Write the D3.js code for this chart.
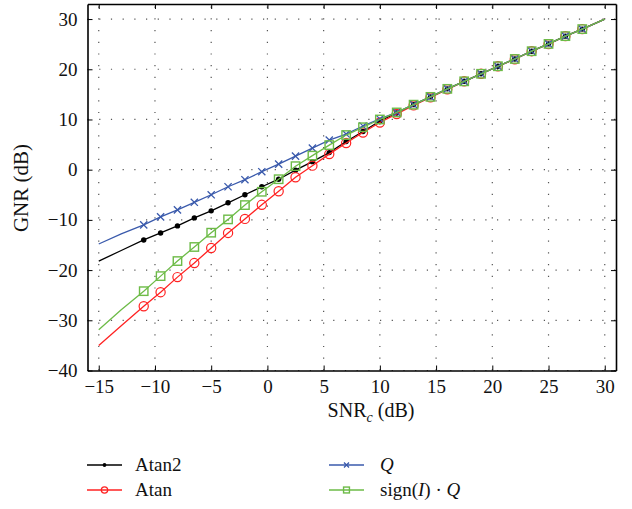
<!DOCTYPE html>
<html><head><meta charset="utf-8">
<script src="https://cdn.jsdelivr.net/npm/d3@7"></script>
<style>
body{margin:0;background:#fff;}
svg{display:block;font-family:"Liberation Serif","DejaVu Serif",serif;}
svg text{font-family:"Liberation Serif","DejaVu Serif",serif;}
</style></head>
<body><svg id="c" width="632" height="509"></svg>
<script>
const snr = [-15, -13, -11, -9.5, -8, -6.5, -5, -3.5, -2, -0.5, 1, 2.5, 4, 5.5, 7, 8.5, 10, 11.5, 13, 14.5, 16, 17.5, 19, 20.5, 22, 23.5, 25, 26.5, 28, 30];
const atan2 = [-18.2, -16.1, -14.0, -12.6, -11.2, -9.6, -8.2, -6.6, -5.0, -3.4, -1.9, -0.1, 1.6, 3.4, 5.6, 7.6, 9.7, 11.3, 12.95, 14.5, 16.1, 17.6, 19.1, 20.6, 22.05, 23.6, 25.05, 26.6, 28.0, 30.0];
const atan = [-35.0, -31.1, -27.2, -24.4, -21.4, -18.6, -15.6, -12.6, -9.8, -7.0, -4.3, -1.5, 0.8, 3.1, 5.3, 7.4, 9.4, 11.1, 12.8, 14.4, 16.0, 17.6, 19.1, 20.6, 22.0, 23.6, 25.0, 26.6, 28.0, 30.0];
const qOnly = [-14.8, -12.8, -11.0, -9.4, -8.0, -6.5, -5.0, -3.4, -2.0, -0.4, 1.1, 2.7, 4.3, 5.9, 7.1, 8.7, 10.1, 11.4, 12.95, 14.5, 16.1, 17.6, 19.1, 20.6, 22.05, 23.6, 25.05, 26.6, 28.0, 30.0];
const signQ = [-31.9, -27.9, -24.2, -21.2, -18.2, -15.4, -12.55, -9.9, -7.05, -4.4, -1.9, 0.7, 2.8, 4.9, 6.9, 8.45, 10.0, 11.4, 12.95, 14.5, 16.1, 17.6, 19.1, 20.6, 22.05, 23.6, 25.05, 26.6, 28.0, 30.0];
const xTicks = [-15, -10, -5, 0, 5, 10, 15, 20, 25, 30];
const yTicks = [-40, -30, -20, -10, 0, 10, 20, 30];
const markerRange = [-11, 28];

const series = [
  {name:"Atan2", vals:atan2, color:"#000000", marker:"dot"},
  {name:"Atan", vals:atan, color:"#ff2222", marker:"circle"},
  {name:"Q", vals:qOnly, color:"#3a5aac", marker:"x"},
  {name:"signQ", vals:signQ, color:"#6dbb47", marker:"square"}
];

const FONT = "Liberation Serif, DejaVu Serif, serif";
const svg = d3.select("#c");
const L=87.5, R=616, T=4, B=370.5;
const x = d3.scaleLinear().domain([-16,31]).range([L,R]);
const y = d3.scaleLinear().domain([-40,33]).range([B,T]);

// grid
const g = svg.append("g");
g.selectAll(".gx").data(xTicks).join("line")
  .attr("x1",d=>x(d)).attr("x2",d=>x(d)).attr("y1",B).attr("y2",T)
  .attr("stroke","#555").attr("stroke-width",1.2).attr("stroke-dasharray","1.2,10.5");
g.selectAll(".gy").data(yTicks).join("line")
  .attr("x1",L).attr("x2",R).attr("y1",d=>y(d)).attr("y2",d=>y(d))
  .attr("stroke","#555").attr("stroke-width",1.2).attr("stroke-dasharray","1.2,10.5");

// axes
function styleAxis(sel){
  sel.attr("font-family",FONT);
  sel.selectAll("path").attr("stroke","#000").attr("stroke-width",1.6);
  sel.selectAll("line").attr("stroke","#000").attr("stroke-width",1);
  sel.selectAll("text").attr("fill","#111").attr("font-size",19).attr("font-family",FONT);
}
svg.append("g").attr("transform",`translate(0,${B})`)
  .call(d3.axisBottom(x).tickValues(xTicks).tickSize(-5).tickSizeOuter(0).tickPadding(9)).call(styleAxis);
svg.append("g").attr("transform",`translate(${L},0)`)
  .call(d3.axisLeft(y).tickValues(yTicks).tickSize(-5).tickSizeOuter(0).tickPadding(10)).call(styleAxis);
svg.append("g").attr("transform",`translate(0,${T})`)
  .call(d3.axisTop(x).tickValues(xTicks).tickSize(-5).tickSizeOuter(0).tickFormat("")).call(styleAxis);
svg.append("g").attr("transform",`translate(${R},0)`)
  .call(d3.axisRight(y).tickValues(yTicks).tickSize(-5).tickSizeOuter(0).tickFormat("")).call(styleAxis);

// markers
function drawMarker(sel, type, color, s){
  if(type==="dot"){
    sel.append("circle").attr("r",2.7*s).attr("fill",color);
  } else if(type==="circle"){
    sel.append("circle").attr("r",4.6*s).attr("fill","none").attr("stroke",color).attr("stroke-width",1.2);
  } else if(type==="x"){
    const a=3.6*s;
    sel.append("path").attr("d",`M${-a},${-a}L${a},${a}M${-a},${a}L${a},${-a}`)
      .attr("stroke",color).attr("stroke-width",1.3).attr("fill","none");
  } else if(type==="square"){
    const a=4.2*s;
    sel.append("rect").attr("x",-a).attr("y",-a).attr("width",2*a).attr("height",2*a)
      .attr("fill","none").attr("stroke",color).attr("stroke-width",1.4);
  }
}

const line = d3.line().x(d=>x(d[0])).y(d=>y(d[1]));
series.forEach(s=>{
  const pts = snr.map((v,i)=>[v,s.vals[i]]);
  const gs = svg.append("g");
  gs.append("path").attr("d",line(pts)).attr("fill","none").attr("stroke",s.color).attr("stroke-width",1.3);
  const mk = pts.filter(p=>p[0]>=markerRange[0] && p[0]<=markerRange[1]);
  gs.selectAll("g.m").data(mk).join("g").attr("class","m")
    .attr("transform",d=>`translate(${x(d[0])},${y(d[1])})`)
    .each(function(){ drawMarker(d3.select(this), s.marker, s.color, 1); });
});

// axis labels
svg.append("text").attr("x",371).attr("y",417).attr("text-anchor","middle").attr("font-size",20).attr("fill","#111")
  .attr("font-family",FONT)
  .html('SNR<tspan font-style="italic" font-size="14" dy="5">c</tspan><tspan dy="-5"> (dB)</tspan>');
svg.append("text").attr("transform","translate(28,188) rotate(-90)").attr("text-anchor","middle")
  .attr("font-family",FONT).attr("font-size",21).attr("fill","#111").text("GNR (dB)");

// legend
const legend = [
  {label:"Atan2", s:series[0], lx:87, tx:135, ly:465},
  {label:"Atan", s:series[1], lx:87, tx:135, ly:490},
  {label:"Q", s:series[2], lx:329, tx:380, ly:465},
  {label:"signQ", s:series[3], lx:329, tx:380, ly:490}
];
legend.forEach(l=>{
  const gl = svg.append("g");
  gl.append("line").attr("x1",l.lx).attr("x2",l.lx+35).attr("y1",l.ly).attr("y2",l.ly)
    .attr("stroke",l.s.color).attr("stroke-width",1.3);
  const m = gl.append("g").attr("transform",`translate(${l.lx+17.5},${l.ly})`);
  drawMarker(m, l.s.marker, l.s.color, 0.7);
  const t = gl.append("text").attr("x",l.tx).attr("y",l.ly+6).attr("font-size",19).attr("fill","#111").attr("font-family",FONT);
  if(l.label==="Q") t.append("tspan").attr("font-style","italic").text("Q");
  else if(l.label==="signQ"){
    t.append("tspan").text("sign(");
    t.append("tspan").attr("font-style","italic").text("I");
    t.append("tspan").text(") \u00b7 ");
    t.append("tspan").attr("font-style","italic").text("Q");
  } else t.text(l.label);
});
</script></body></html>
